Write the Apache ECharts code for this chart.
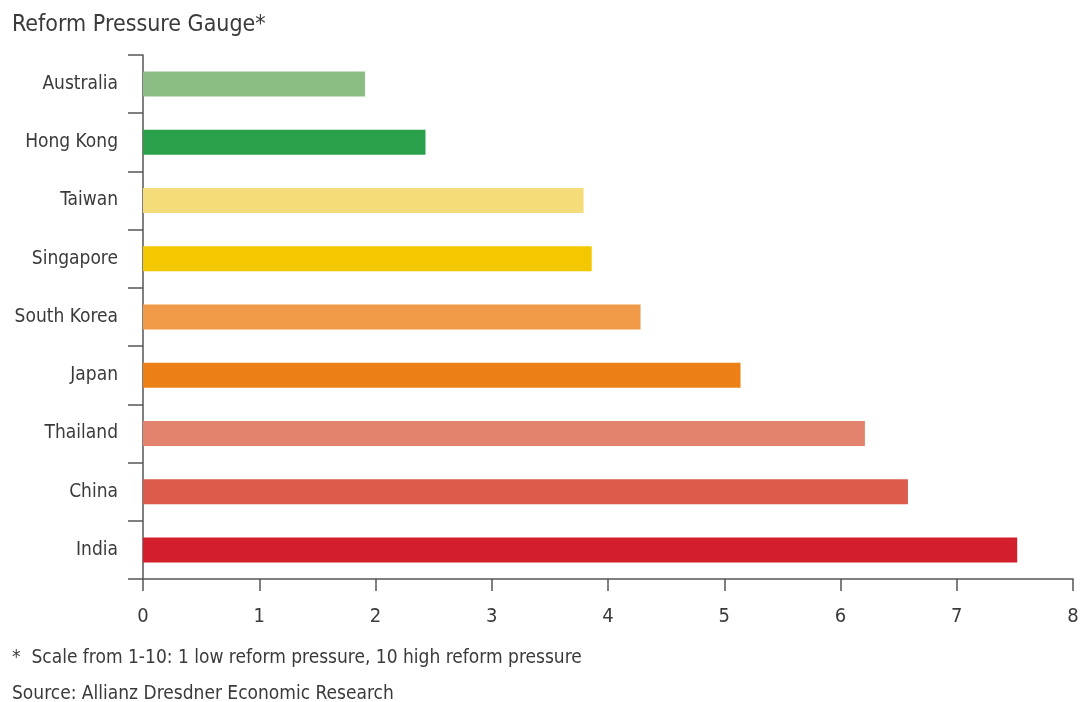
<!DOCTYPE html>
<html><head><meta charset="utf-8">
<script src="https://cdn.jsdelivr.net/npm/echarts@6/dist/echarts.min.js"></script>
<style>html,body{margin:0;padding:0;background:#fff}#c{width:1084px;height:702px}</style>
</head><body><div id="c"></div>
<script>
const categories = ['Australia','Hong Kong','Taiwan','Singapore','South Korea','Japan','Thailand','China','India'];
const values = [1.91, 2.43, 3.79, 3.86, 4.28, 5.14, 6.21, 6.58, 7.52];
const barColors = ['#8bbd85','#2aa04a','#f5dc7a','#f3c800','#f09a48','#ec7f16','#e4836d','#dd5b4a','#d31f2c'];
const xTicks = [0,1,2,3,4,5,6,7,8];
const titleText = 'Reform Pressure Gauge*';
const footnote = '*  Scale from 1-10: 1 low reform pressure, 10 high reform pressure';
const sourceText = 'Source: Allianz Dresdner Economic Research';

const FONT = '"Liberation Sans Narrow","DejaVu Sans Condensed",sans-serif';
const chart = echarts.init(document.getElementById('c'));
chart.setOption({
  animation: false,
  backgroundColor: '#fff',
  title: [
    {text: titleText, left: 12, top: 14, padding: 0, textStyle: {fontFamily: FONT, fontSize: 23, fontWeight: 'normal', color: '#3a3a3a'}},
    {text: footnote, left: 12, top: 649, padding: 0, textStyle: {fontFamily: FONT, fontSize: 19, fontWeight: 'normal', color: '#3a3a3a'}},
    {text: sourceText, left: 12, top: 685, padding: 0, textStyle: {fontFamily: FONT, fontSize: 19, fontWeight: 'normal', color: '#3a3a3a'}}
  ],
  grid: {left: 143, right: 11, top: 55, bottom: 123, containLabel: false},
  xAxis: {
    type: 'value', min: xTicks[0], max: xTicks[xTicks.length-1], interval: 1,
    axisLine: {show: true, lineStyle: {color: '#555', width: 1.5}},
    axisTick: {show: true, length: 12, lineStyle: {color: '#555', width: 1.5}},
    splitLine: {show: false},
    axisLabel: {fontFamily: FONT, fontSize: 20, color: '#3a3a3a', margin: 28}
  },
  yAxis: {
    type: 'category', data: categories, inverse: true,
    axisLine: {show: true, lineStyle: {color: '#555', width: 1.5}},
    axisTick: {show: true, length: 15, lineStyle: {color: '#555', width: 1.5}},
    axisLabel: {fontFamily: FONT, fontSize: 19, color: '#3a3a3a', margin: 25}
  },
  series: [{
    type: 'bar', barWidth: 25,
    data: values.map((v, i) => ({value: v, itemStyle: {color: barColors[i]}}))
  }]
});
</script></body></html>
